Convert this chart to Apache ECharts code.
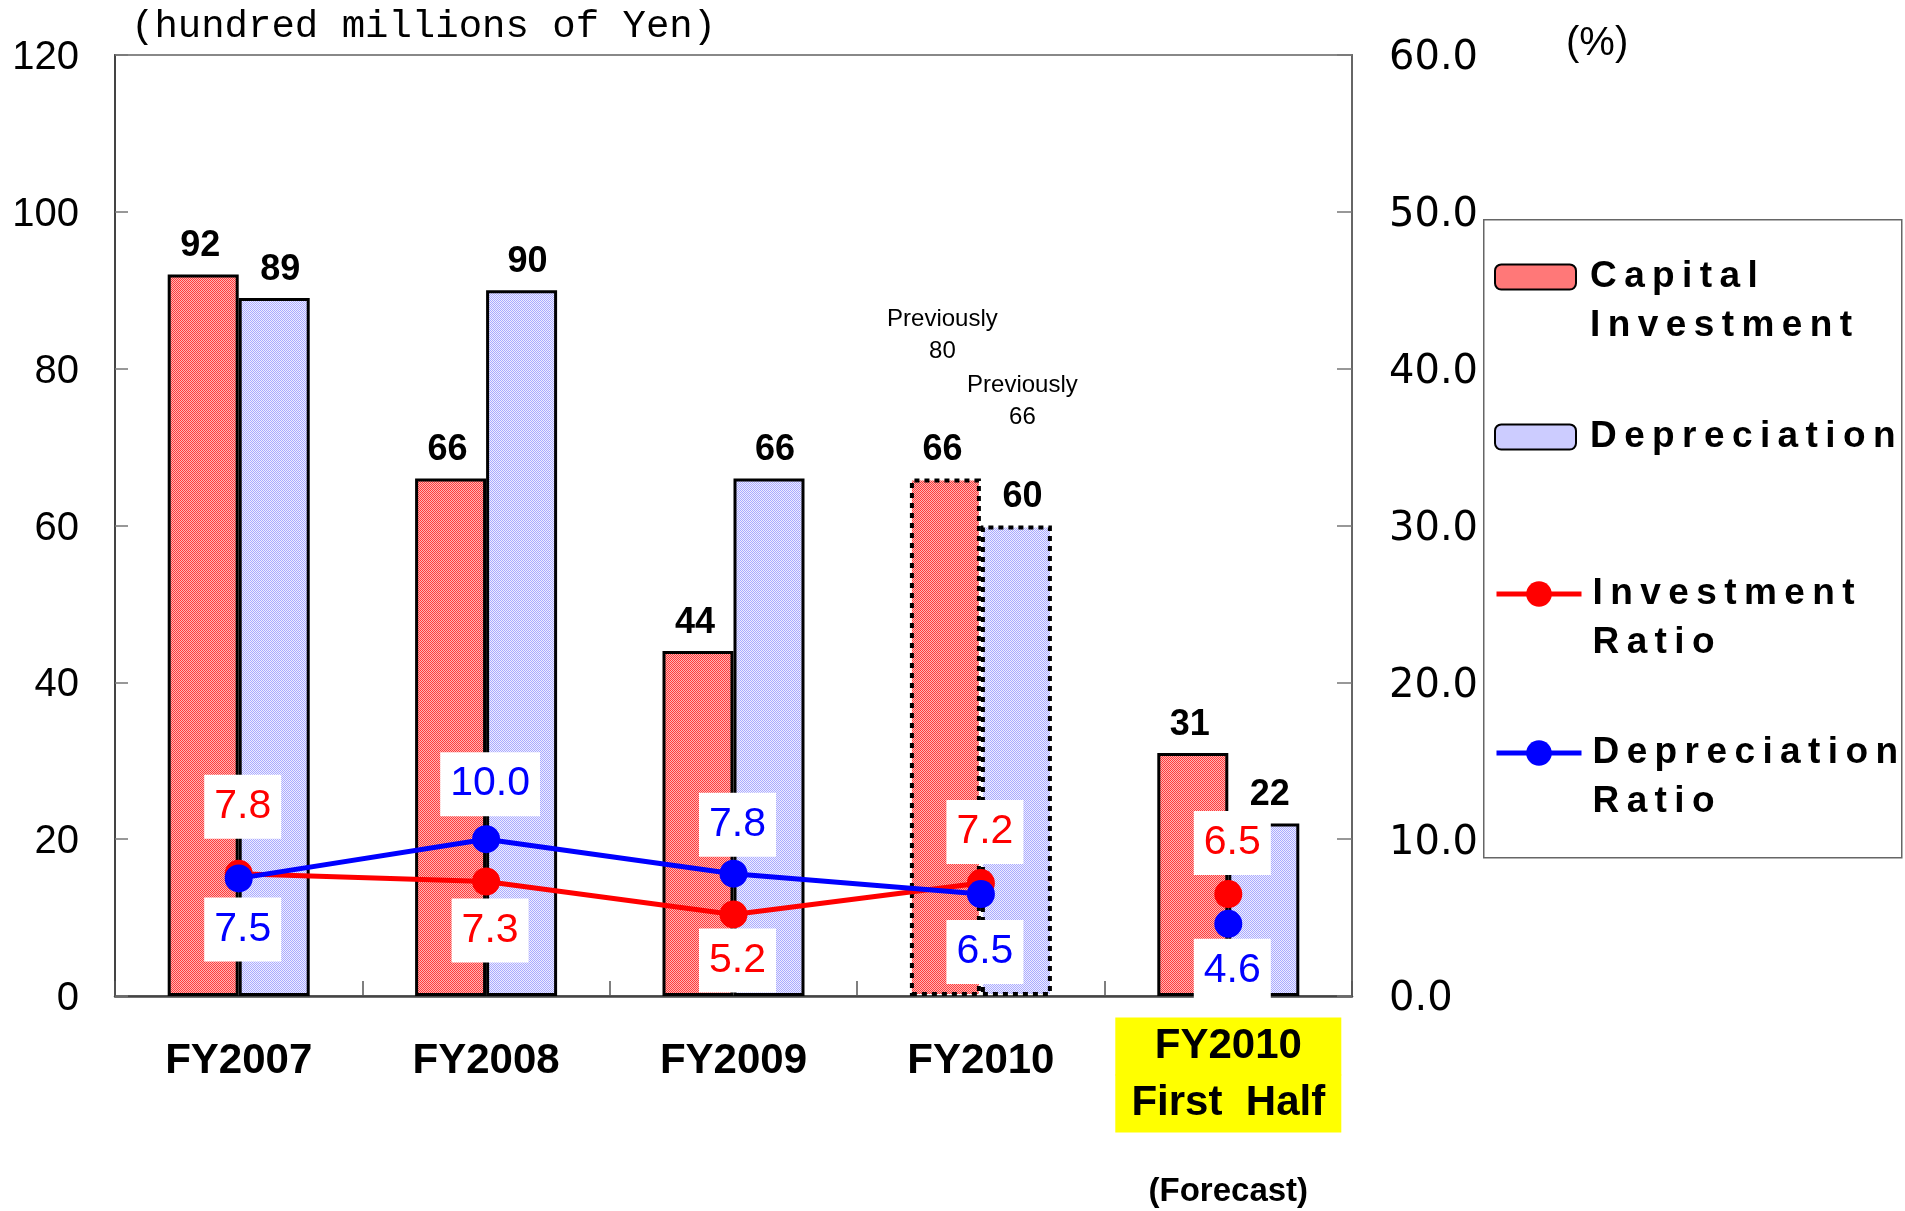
<!DOCTYPE html>
<html><head><meta charset="utf-8">
<script src="https://cdn.jsdelivr.net/npm/echarts@6/dist/echarts.min.js"></script>
<style>html,body{margin:0;padding:0;background:#fff}#c{width:1905px;height:1211px}</style>
</head><body><div id="c"></div>
<script>
// ---- data ----
const categories = ['FY2007', 'FY2008', 'FY2009', 'FY2010', 'FY2010 First Half'];
const capitalInvestment = [92, 66, 44, 66, 31];
const depreciation = [89, 90, 66, 60, 22];
const investmentRatio = [7.8, 7.3, 5.2, 7.2];
const depreciationRatio = [7.5, 10.0, 7.8, 6.5];
const investmentRatioHalf = [6.5];
const depreciationRatioHalf = [4.6];
const previousCapital = [null, null, null, 80, null];
const previousDepreciation = [null, null, null, 66, null];
const leftAxisTicks = [0, 20, 40, 60, 80, 100, 120];
const rightAxisTicks = ['0.0', '10.0', '20.0', '30.0', '40.0', '50.0', '60.0'];
const forecastCategory = 'FY2010';
const halfYearCategory = 'FY2010 First Half';

// ---- style helpers (not data) ----
const invLabelPos = ['top', 'bottom', 'bottom', 'top', 'top'];
const invLabelDist = [21, 3, 0, 5, 5];
const depLabelPos = ['bottom', 'top', 'top', 'bottom', 'bottom'];
const depLabelDist = [5, 9, 3, 12, 1];

const SANS = '"Liberation Sans", Arial, sans-serif';
const TS = '\u2009';
const spaced = s => String(s).split('').join(TS);

function makePattern(c1, c2) {
  const cv = document.createElement('canvas');
  cv.width = 2; cv.height = 2;
  const ctx = cv.getContext('2d');
  ctx.fillStyle = c2; ctx.fillRect(0, 0, 2, 2);
  ctx.fillStyle = c1; ctx.fillRect(0, 0, 1, 1); ctx.fillRect(1, 1, 1, 1);
  return { image: cv, repeat: 'repeat' };
}
const redFill = makePattern('#ff3c3c', '#ffb4b4');
const blueFill = makePattern('#aaaaff', '#eeeeff');

const fIdx = categories.indexOf(forecastCategory);
const hIdx = categories.indexOf(halfYearCategory);

function barData(arr) {
  return arr.map((v, i) => i === fIdx
    ? { value: v, itemStyle: { borderType: [5, 5], borderWidth: 4 } }
    : v);
}

function barLabel(prev, spacer, dx) {
  return {
    show: true, position: 'top', distance: 8, color: '#000', offset: [dx, 0],
    formatter: p => {
      const pv = prev[p.dataIndex];
      let s = '';
      if (pv != null) s = '{p|Previously}\n{p|' + pv + '}\n{' + spacer + '| }\n';
      return s + '{v|' + p.value + '}';
    },
    rich: {
      p: { fontFamily: SANS, fontSize: 24, lineHeight: 32, color: '#000' },
      v: { fontFamily: SANS, fontSize: 36, fontWeight: 'bold', lineHeight: 40, color: '#000' },
      s1: { fontSize: 10, lineHeight: 63 },
      s2: { fontSize: 10, lineHeight: 44 }
    }
  };
}

function ratioLabel(color) {
  return {
    show: true, color: color, fontFamily: SANS, fontSize: 41, lineHeight: 40,
    backgroundColor: '#fff', padding: [12, 10, 12, 10], offset: [4, 0],
    formatter: p => Number(p.value).toFixed(1)
  };
}

function lineData(arr, pos, dist, offset) {
  const out = categories.map(() => '-');
  arr.forEach((v, k) => {
    const i = k + offset;
    out[i] = { value: v, label: { position: pos[i], distance: dist[i] } };
  });
  return out;
}

const legendLines = {
  'Capital Investment': ['Capital', 'Investment'],
  'Depreciation': ['Depreciation'],
  'Investment Ratio': ['Investment', 'Ratio'],
  'Depreciation Ratio': ['Depreciation', 'Ratio']
};
// two-line entries get a blank first line so the icon sits beside the first real line
const legendFmt = name => {
  const ls = legendLines[name].map(spaced);
  return (ls.length > 1 ? ' \n' : '') + ls.join('\n');
};
const legendTextBase = { fontFamily: SANS, fontSize: 37, fontWeight: 'bold', color: '#000', lineHeight: 49, backgroundColor: 'rgba(255,255,255,0)' };
function mkLegend(name, top, iw, ih, padLeft) {
  return {
    show: true, orient: 'vertical', left: 1494, top: top, padding: 0,
    itemWidth: iw, itemHeight: ih, selectedMode: false,
    data: [name], formatter: legendFmt,
    lineStyle: { width: 5 },
    textStyle: Object.assign({}, legendTextBase, { padding: [0, 0, 0, padLeft] })
  };
}

const chart = echarts.init(document.getElementById('c'), null, { renderer: 'canvas' });
const option = {
  animation: false,
  backgroundColor: '#fff',
  grid: { left: 115, right: 553, top: 55, bottom: 215, show: true, borderColor: '#888', borderWidth: 2, backgroundColor: 'transparent' },
  graphic: [{
    type: 'rect', left: 1483, top: 219, z: 0,
    shape: { width: 418, height: 638 },
    style: { fill: '#fff', stroke: '#666', lineWidth: 1.5 }
  }],
  legend: [
    mkLegend('Capital Investment', 203.5, 81, 25, 9),
    mkLegend('Depreciation', 412.5, 81, 25, 9),
    mkLegend('Investment Ratio', 520.5, 85, 32, 6),
    mkLegend('Depreciation Ratio', 679.5, 85, 32, 6)
  ],
  xAxis: {
    type: 'category', data: categories, boundaryGap: true,
    axisLine: { show: true, lineStyle: { color: '#444', width: 2.5 } },
    axisTick: { show: true, inside: true, length: 15, lineStyle: { color: '#555', width: 1.5 } },
    axisLabel: {
      interval: 0, margin: 22, color: '#000',
      formatter: (v, i) => v === halfYearCategory
        ? '{hl|FY2010}\n{hl|First  Half}\n{fc|(Forecast)}'
        : '{n|' + v + '}',
      rich: {
        n: { fontFamily: SANS, fontSize: 42, fontWeight: 'bold', lineHeight: 86, color: '#000' },
        hl: { fontFamily: SANS, fontSize: 42, fontWeight: 'bold', lineHeight: 57, color: '#000', backgroundColor: '#ffff00', width: 226, align: 'center', padding: [8, 0, 8, 0] },
        fc: { fontFamily: SANS, fontSize: 33, fontWeight: 'bold', lineHeight: 120, color: '#000' }
      }
    }
  },
  yAxis: [{
    type: 'value', min: leftAxisTicks[0], max: leftAxisTicks[leftAxisTicks.length - 1],
    interval: leftAxisTicks[1] - leftAxisTicks[0],
    name: '(hundred millions of Yen)', nameLocation: 'end', nameGap: 28,
    nameTextStyle: { fontFamily: '"Liberation Mono", monospace', fontSize: 39, color: '#000', align: 'left', verticalAlign: 'middle', padding: [0, 0, 0, 16] },
    splitLine: { show: false },
    axisLine: { show: true, lineStyle: { color: '#444', width: 2 } },
    axisTick: { show: true, inside: true, length: 13, lineStyle: { color: '#777', width: 1.5 } },
    axisLabel: { fontFamily: SANS, fontSize: 40, color: '#000', margin: 36, verticalAlign: 'top', lineHeight: 6 }
  }, {
    type: 'value', position: 'right', min: 0, max: Number(rightAxisTicks[rightAxisTicks.length - 1]),
    interval: Number(rightAxisTicks[1]) - Number(rightAxisTicks[0]),
    name: '(%)', nameLocation: 'end', nameGap: 11,
    nameTextStyle: { fontFamily: SANS, fontSize: 40, color: '#000', align: 'left', verticalAlign: 'middle', padding: [0, 0, 0, 214] },
    splitLine: { show: false },
    axisLine: { show: true, lineStyle: { color: '#666', width: 2 } },
    axisTick: { show: true, inside: true, length: 15, lineStyle: { color: '#777', width: 1.5 } },
    axisLabel: {
      fontFamily: '"DejaVu Sans", sans-serif', fontSize: 40, color: '#000', margin: 37,
      verticalAlign: 'top', lineHeight: 8,
      formatter: v => rightAxisTicks[Math.round(v / 10)]
    }
  }],
  series: [
    {
      name: 'Capital Investment', type: 'bar', z: 2, barWidth: 71, barGap: '0%',
      data: barData(capitalInvestment),
      itemStyle: { color: redFill, borderColor: '#000', borderWidth: 3 },
      label: barLabel(previousCapital, 's1', -3),
      emphasis: { disabled: true }
    },
    {
      name: 'Depreciation', type: 'bar', z: 2, barWidth: 71, barGap: '0%',
      data: barData(depreciation),
      itemStyle: { color: blueFill, borderColor: '#000', borderWidth: 3 },
      label: barLabel(previousDepreciation, 's2', 6),
      emphasis: { disabled: true }
    },
    {
      name: 'Investment Ratio', type: 'line', yAxisIndex: 1, z: 3,
      data: lineData(investmentRatio, invLabelPos, invLabelDist, 0),
      symbol: 'circle', symbolSize: 28, showAllSymbol: true,
      lineStyle: { color: '#ff0000', width: 5 }, itemStyle: { color: '#ff0000' },
      label: ratioLabel('#ff0000'), emphasis: { disabled: true }
    },
    {
      name: 'Investment Ratio', type: 'line', yAxisIndex: 1, z: 3,
      data: lineData(investmentRatioHalf, invLabelPos, invLabelDist, hIdx),
      symbol: 'circle', symbolSize: 28, showAllSymbol: true,
      lineStyle: { color: '#ff0000', width: 5 }, itemStyle: { color: '#ff0000' },
      label: ratioLabel('#ff0000'), emphasis: { disabled: true }
    },
    {
      name: 'Depreciation Ratio', type: 'line', yAxisIndex: 1, z: 4,
      data: lineData(depreciationRatio, depLabelPos, depLabelDist, 0),
      symbol: 'circle', symbolSize: 28, showAllSymbol: true,
      lineStyle: { color: '#0000ff', width: 5 }, itemStyle: { color: '#0000ff' },
      label: ratioLabel('#0000ff'), emphasis: { disabled: true }
    },
    {
      name: 'Depreciation Ratio', type: 'line', yAxisIndex: 1, z: 4,
      data: lineData(depreciationRatioHalf, depLabelPos, depLabelDist, hIdx),
      symbol: 'circle', symbolSize: 28, showAllSymbol: true,
      lineStyle: { color: '#0000ff', width: 5 }, itemStyle: { color: '#0000ff' },
      label: ratioLabel('#0000ff'), emphasis: { disabled: true }
    }
  ]
};
chart.setOption(option);
</script></body></html>
